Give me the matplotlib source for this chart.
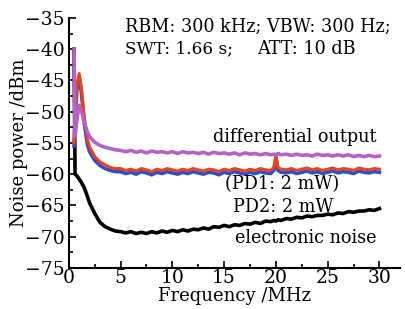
import matplotlib
matplotlib.use("Agg")
import matplotlib.pyplot as plt
from matplotlib.ticker import MultipleLocator

# === Daten ===
freq = [0.5, 0.6, 0.8, 1.0, 1.2, 1.5, 1.8, 2.0, 2.5, 3.0, 3.5, 4.0, 4.5,
        5.0, 5.5, 6.0, 6.5, 7.0, 7.5, 8.0, 8.5, 9.0, 9.5, 10.0, 10.5, 11.0, 11.5,
        12.0, 12.5, 13.0, 13.5, 14.0, 14.5, 15.0, 15.5, 16.0, 16.5, 17.0, 17.5,
        18.0, 18.5, 19.0, 19.5, 19.8, 20.0, 20.2, 20.5, 21.0, 21.5, 22.0, 22.5,
        23.0, 23.5, 24.0, 24.5, 25.0, 25.5, 26.0, 26.5, 27.0, 27.5, 28.0, 28.5,
        29.0, 29.5, 30.0]

pd1 = [-55, -50, -45.5, -43.9, -46, -51, -54.5, -55.6, -57.2, -58.0, -58.5, -58.9, -59.1,
       -59.1, -59.4, -59.2, -59.5, -59.1, -59.3, -59.6, -59.2, -59.4, -59.1, -59.3, -59.5,
       -59.2, -59.4, -59.1, -59.3, -59.5, -59.2, -59.3, -59.6, -59.2, -59.4, -59.1, -59.3,
       -59.5, -59.2, -59.4, -59.1, -59.3, -59.4,
       -58.9, -57.0, -58.9, -59.2,
       -59.3, -59.1, -59.4, -59.2, -59.0, -59.3, -59.1, -59.4, -59.2, -59.0, -59.3, -59.1,
       -59.2, -59.4, -59.0, -59.2, -59.3, -59.1, -59.2]

pd2 = [-55.5, -51, -46, -44.6, -46.8, -52, -55.3, -56.4, -57.8, -58.6, -59.1, -59.4, -59.6,
       -59.6, -59.9, -59.7, -60.0, -59.6, -59.8, -60.1, -59.7, -59.9, -59.6, -59.8, -60.0,
       -59.7, -59.9, -59.6, -59.8, -60.0, -59.7, -59.8, -60.1, -59.7, -59.9, -59.6, -59.8,
       -60.0, -59.7, -59.9, -59.6, -59.8, -59.9,
       -59.4, -57.4, -59.4, -59.7,
       -59.8, -59.6, -59.9, -59.7, -59.5, -59.8, -59.6, -59.9, -59.7, -59.5, -59.8, -59.6,
       -59.7, -59.9, -59.5, -59.7, -59.8, -59.6, -59.7]

diff_out = [-40, -54, -51, -49, -49.8, -51.8, -53.3, -54.0, -54.9, -55.4, -55.7, -55.9, -56.1,
            -56.2, -56.4, -56.2, -56.5, -56.3, -56.6, -56.3, -56.5, -56.4, -56.6, -56.4, -56.7,
            -56.4, -56.6, -56.5, -56.7, -56.5, -56.8, -56.5, -56.7, -56.6, -56.8, -56.6, -56.9,
            -56.6, -56.8, -56.7, -56.9, -56.7, -56.9,
            -56.8, -56.9, -56.7, -56.9,
            -56.8, -57.0, -56.8, -57.0, -56.9, -57.1, -56.8, -57.0, -56.9, -57.1, -56.9, -57.1,
            -56.9, -57.2, -57.0, -57.2, -57.0, -57.2, -57.1]

elec = [-40, -60.0, -60.3, -60.8, -61.3, -62.2, -63.6, -64.6, -66.3, -67.7, -68.4, -68.8, -69.1,
        -69.2, -69.4, -69.2, -69.5, -69.3, -69.5, -69.2, -69.4, -69.1, -69.3, -69.0, -69.2,
        -68.9, -69.1, -68.8, -68.9, -68.6, -68.8, -68.4, -68.5, -68.2, -68.4, -68.1, -68.2,
        -67.9, -68.0, -67.7, -67.9, -67.5, -67.6,
        -67.4, -67.5, -67.3, -67.4,
        -67.1, -67.2, -66.9, -67.0, -66.7, -66.8, -66.6, -66.6, -66.4, -66.5, -66.2, -66.3,
        -66.0, -66.1, -65.9, -65.9, -65.7, -65.8, -65.5]

xticks = [0, 5, 10, 15, 20, 25, 30]

plt.rcParams["font.family"] = ["DejaVu Serif"]

fig = plt.figure(figsize=(4.05, 3.09), dpi=100)
ax = fig.add_axes([0.170, 0.133, 0.818, 0.809])

ax.plot(freq, elec, color="black", lw=2.6)
ax.plot(freq, pd2, color="#2f4fc8", lw=2.6)
ax.plot(freq, pd1, color="#e8441e", lw=2.2)
ax.plot(freq, diff_out, color="#b462c4", lw=2.6)

ax.set_xlim(0, 32)
ax.set_ylim(-75, -35)
ax.set_xticks(xticks)
ax.xaxis.set_minor_locator(MultipleLocator(2.5))
ax.yaxis.set_major_locator(MultipleLocator(5))
ax.yaxis.set_minor_locator(MultipleLocator(2.5))

for s in ["top", "right"]:
    ax.spines[s].set_visible(False)
for s in ["left", "bottom"]:
    ax.spines[s].set_linewidth(1.5)

ax.tick_params(which="both", direction="in", labelsize=13.5, width=1.2)
ax.tick_params(which="major", length=5)
ax.tick_params(axis="x", which="major", pad=1)
ax.tick_params(axis="y", which="major", pad=3)
ax.tick_params(which="minor", length=3)

ax.set_xlabel("Frequency /MHz", fontsize=13, labelpad=0)
ax.set_ylabel("Noise power /dBm", fontsize=13, labelpad=-2)

ax.text(5.4, -36.4, "RBM: 300 kHz; VBW: 300 Hz;", fontsize=12.7, va="center")
ax.text(5.4, -40.0, "SWT: 1.66 s;", fontsize=12.2, va="center")
ax.text(18.2, -40.0, "ATT: 10 dB", fontsize=12.7, va="center")
ax.text(29.7, -54.0, "differential output", fontsize=12.7, va="center", ha="right")
ax.text(15.1, -61.6, "(PD1: 2 mW)", fontsize=12.7, va="center")
ax.text(15.9, -65.2, "PD2: 2 mW", fontsize=12.7, va="center")
ax.text(29.7, -70.2, "electronic noise", fontsize=12.7, va="center", ha="right")

fig.savefig("out.png", dpi=100)
